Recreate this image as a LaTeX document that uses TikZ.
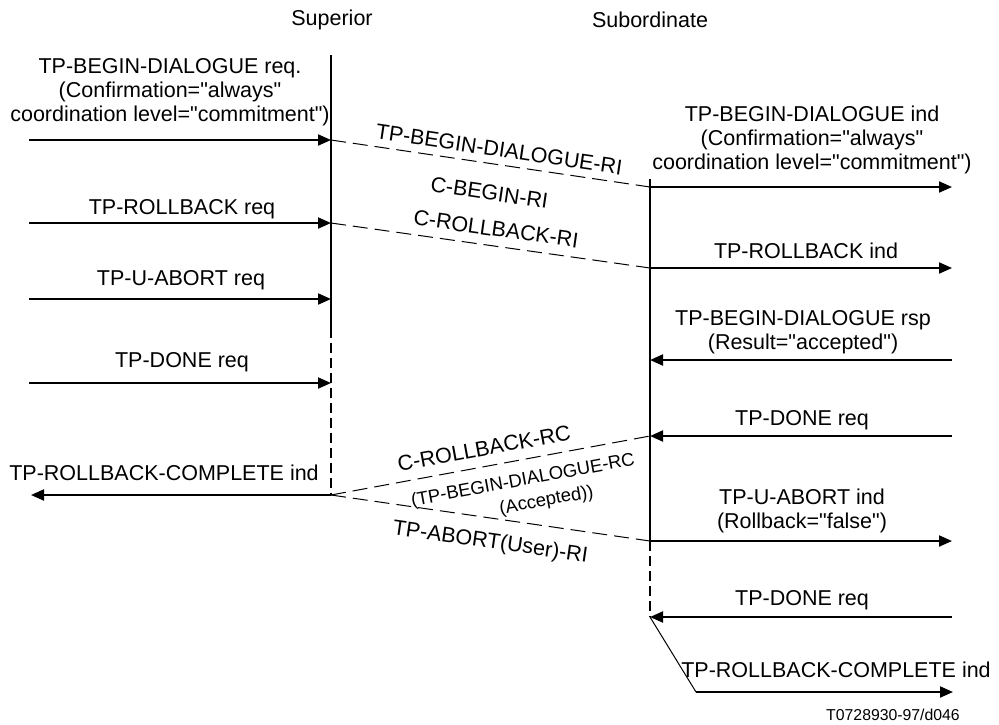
\documentclass[tikz,border=0pt]{standalone}
\usepackage{fontspec}
\setmainfont{Liberation Sans}[Ligatures=TeXOff]
\usetikzlibrary{arrows.meta}

\begin{document}
\begin{tikzpicture}[x=0.5pt, y=-0.5pt,
        msg/.style={line width=1pt, -{Triangle[length=6.5pt, width=5.5pt]}},
        life/.style={line width=1pt},
        lifedash/.style={line width=1pt, dash pattern=on 5pt off 2.5pt},
        pdu/.style={line width=0.5pt, dash pattern=on 7.5pt off 3.5pt},
        lbl/.style={font=\fontsize{10.75}{12}\selectfont, align=center, inner sep=0pt},
        pdulbl/.style={font=\fontsize{10.75}{12}\selectfont, inner sep=0pt, sloped},
        pdusmall/.style={font=\fontsize{9.2}{11}\selectfont, inner sep=0pt, sloped}]
            \useasboundingbox (0,0) rectangle (999,724);

            % Headings
            \node[lbl] (superior) at (332,20) {Superior};
            \node[lbl] (subordinate) at (650,20) {Subordinate};

            % Draw the superior lifeline
            \coordinate (supTop) at (331,55);
            \coordinate (supMid) at (331,328);
            \coordinate (supEnd) at (331,495);
            \draw[life] (supTop) -- (supMid);
            \draw[lifedash] (supMid) -- (supEnd);

            % Draw the subordinate lifeline
            \coordinate (subTop) at (650,179);
            \coordinate (subMid) at (650,541);
            \coordinate (subEnd) at (650,617);
            \draw[life] (subTop) -- (subMid);
            \draw[lifedash] (subMid) -- (subEnd);

            % Requests from the superior user
            \foreach \n/\y in {a/140, b/223, c/299, d/383}
                {
                    \coordinate (supin\n) at (29,\y);
                    \coordinate (sup\n) at (331,\y);
                    \draw[msg] (supin\n) -- (sup\n);
                }
            \coordinate (supout) at (31,495);
            \draw[msg] (supEnd) -- (supout);

            % Indications to the subordinate user
            \foreach \n/\y in {a/187, b/268, e/541}
                {
                    \coordinate (sub\n) at (650,\y);
                    \coordinate (subout\n) at (952,\y);
                    \draw[msg] (sub\n) -- (subout\n);
                }
            % Requests and responses from the subordinate user
            \foreach \n/\y in {c/360, d/436, f/617}
                {
                    \coordinate (sub\n) at (650,\y);
                    \coordinate (subin\n) at (952,\y);
                    \draw[msg] (subin\n) -- (sub\n);
                }
            \coordinate (bend) at (696,692);
            \coordinate (suboutg) at (953,692);
            \draw[line width=0.5pt] (subf) -- (bend);
            \draw[msg] (bend) -- (suboutg);

            % Dashed PDU exchanges
            \draw[pdu] (supa) -- node[pdulbl, above=3.5pt, pos=0.52] (bdri) {TP-BEGIN-DIALOGUE-RI}
                node[pdulbl, below=10.5pt, pos=0.51] (cbri) {C-BEGIN-RI} (suba);
            \draw[pdu] (supb) -- node[pdulbl, above=4.5pt, pos=0.51] (crbri) {C-ROLLBACK-RI} (subb);
            \draw[pdu] (supEnd) -- node[pdulbl, above=5pt, pos=0.49] (crbrc) {C-ROLLBACK-RC}
                node[pdusmall, below=6pt, pos=0.59] (bdrc) {(TP-BEGIN-DIALOGUE-RC}
                node[pdusmall, below=18pt, pos=0.65] (acc) {(Accepted))} (subd);
            \draw[pdu] (supEnd) -- node[pdulbl, below=7pt, pos=0.51] (abri) {TP-ABORT(User)-RI} (subMid);

            % Primitive labels, superior side
            \node[lbl] (beginreq) at (170,92) {TP-BEGIN-DIALOGUE req.\\(Confirmation="always"\\coordination level="commitment")};
            \node[lbl] (rbreq) at (182,209) {TP-ROLLBACK req};
            \node[lbl] (uabreq) at (181,280) {TP-U-ABORT req};
            \node[lbl] (donereq) at (182,362) {TP-DONE req};
            \node[lbl] (rbcind) at (164,473) {TP-ROLLBACK-COMPLETE ind};

            % Primitive labels, subordinate side
            \node[lbl] (beginind) at (812,140) {TP-BEGIN-DIALOGUE ind\\(Confirmation="always"\\coordination level="commitment")};
            \node[lbl] (rbind) at (806,251) {TP-ROLLBACK ind};
            \node[lbl] (beginrsp) at (803,332) {TP-BEGIN-DIALOGUE rsp\\(Result="accepted")};
            \node[lbl] (subdone) at (802,420) {TP-DONE req};
            \node[lbl] (uabind) at (802,511) {TP-U-ABORT ind\\(Rollback="false")};
            \node[lbl] (subdonetwo) at (802,600) {TP-DONE req};
            \node[lbl] (subrbcind) at (836,670) {TP-ROLLBACK-COMPLETE ind};

            \node[font=\fontsize{7.9}{9}\selectfont, inner sep=0pt] (figid) at (893,715) {T0728930-97/d046};

        \end{tikzpicture}
\end{document}
